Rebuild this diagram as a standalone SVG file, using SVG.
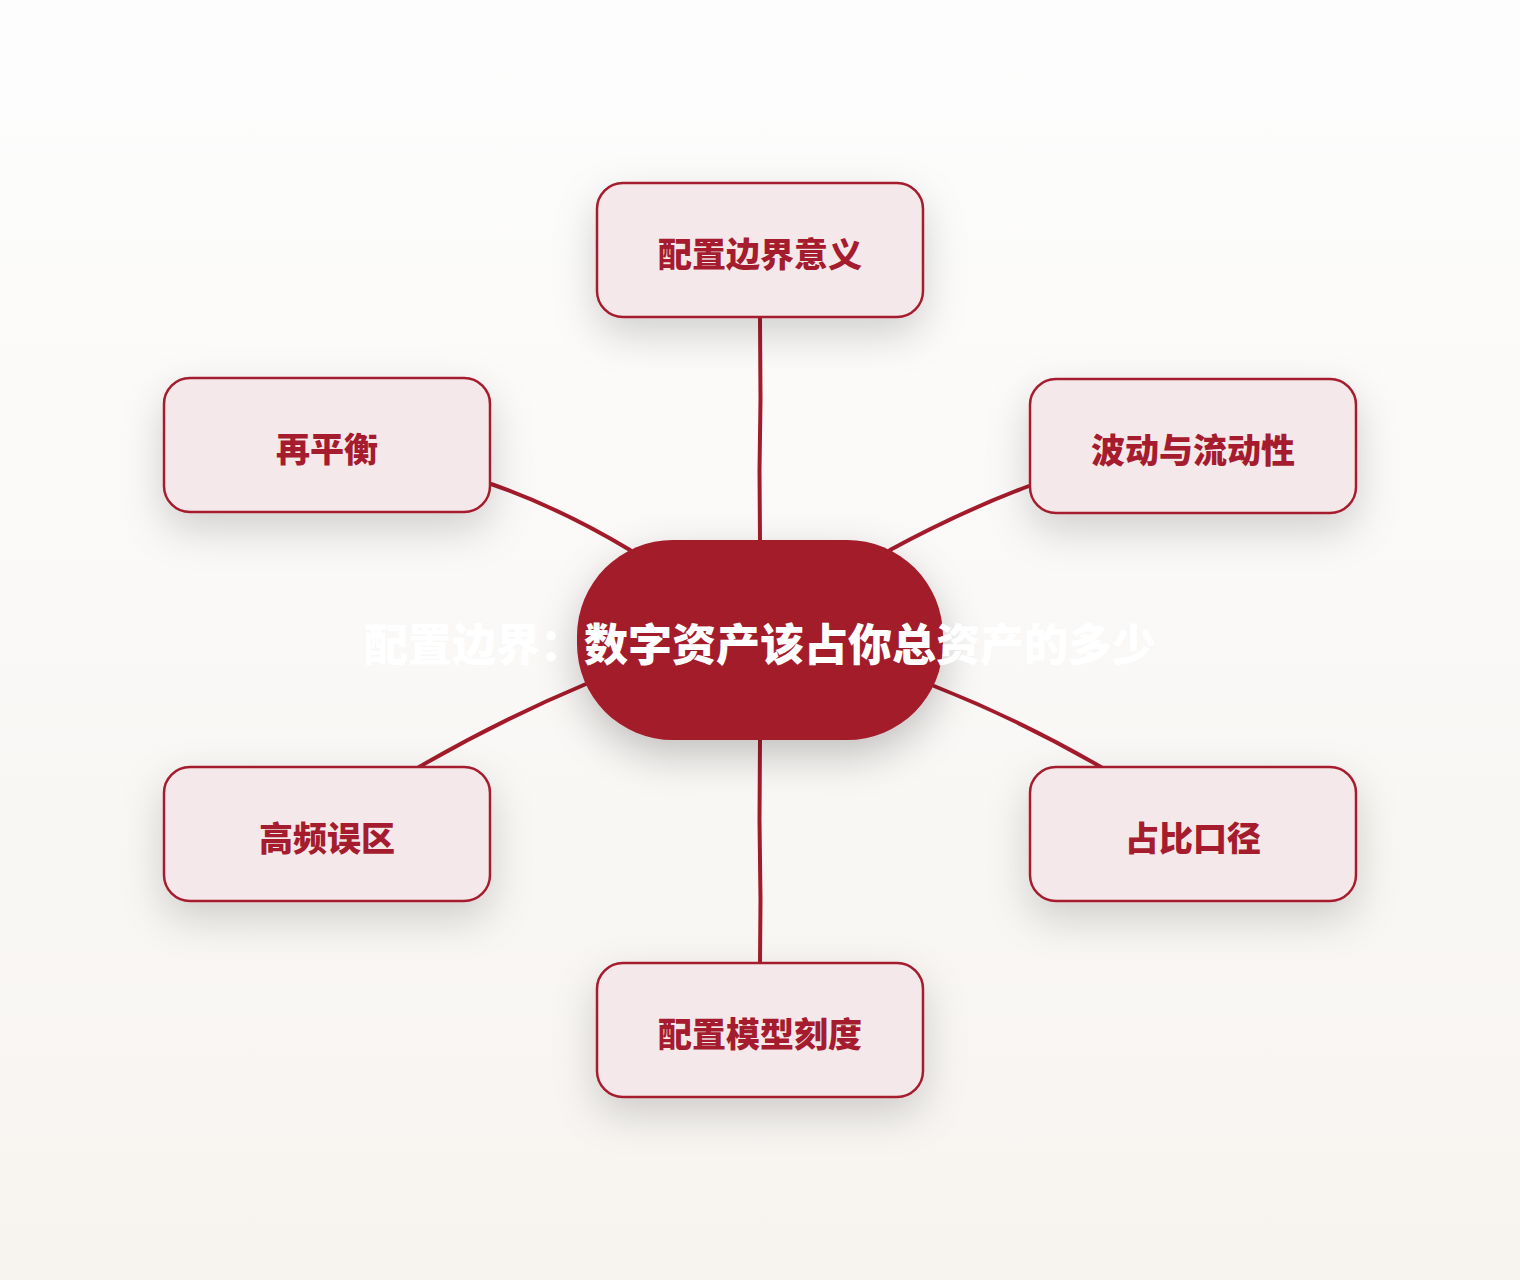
<svg xmlns="http://www.w3.org/2000/svg" width="1520" height="1280" viewBox="0 0 1520 1280">
<defs>
<linearGradient id="bg" x1="0" y1="0" x2="0" y2="1">
<stop offset="0" stop-color="#fdfdfd"/>
<stop offset="1" stop-color="#f7f4f0"/>
</linearGradient>
<filter id="sh" x="-40%" y="-40%" width="180%" height="200%">
<feDropShadow dx="0" dy="16" stdDeviation="20" flood-color="#000" flood-opacity="0.17"/>
</filter>
<filter id="shc" x="-40%" y="-40%" width="180%" height="200%">
<feDropShadow dx="0" dy="16" stdDeviation="20" flood-color="#000" flood-opacity="0.22"/>
</filter>
</defs>
<style>
.node rect{fill:#f5e8ea;stroke:#a51c2e;stroke-width:2.5;filter:url(#sh)}
.node text{fill:#a51c2e;font-family:"Noto Sans CJK SC","Noto Sans",sans-serif;font-weight:900;font-size:34px;text-anchor:middle;dominant-baseline:central}
.edge{fill:none;stroke:#a31b2b;stroke-width:4;stroke-linecap:round}
.center rect{fill:#a31b2b;filter:url(#shc)}
.center text{fill:#ffffff;font-family:"Noto Sans CJK SC","Noto Sans",sans-serif;font-weight:900;font-size:44px;text-anchor:middle;dominant-baseline:central}
</style>
<rect width="1520" height="1280" fill="url(#bg)"/>
<g id="connectors">
<path class="edge" d="M760,318 L760.5,400 L759.5,470 L760,540"/>
<path class="edge" d="M491,484 Q560,508 630,550"/>
<path class="edge" d="M1029,486 Q960,512 890,550"/>
<path class="edge" d="M419,767 Q500,720 586,684"/>
<path class="edge" d="M934,686 Q1020,720 1101,767"/>
<path class="edge" d="M760,740 L759.5,820 L760.5,900 L760,963"/>
</g>
<g id="center" class="center">
<rect x="577" y="540" width="366" height="200" rx="96" ry="96"/>
<text x="760" y="642">配置边界：数字资产该占你总资产的多少</text>
</g>
<g id="n-top" class="node">
<rect x="597" y="183" width="326" height="134" rx="26"/>
<text x="760" y="252">配置边界意义</text>
</g>
<g id="n-ul" class="node">
<rect x="164" y="378" width="326" height="134" rx="26"/>
<text x="327" y="447">再平衡</text>
</g>
<g id="n-ur" class="node">
<rect x="1030" y="379" width="326" height="134" rx="26"/>
<text x="1193" y="448">波动与流动性</text>
</g>
<g id="n-ll" class="node">
<rect x="164" y="767" width="326" height="134" rx="26"/>
<text x="327" y="836">高频误区</text>
</g>
<g id="n-lr" class="node">
<rect x="1030" y="767" width="326" height="134" rx="26"/>
<text x="1193" y="836">占比口径</text>
</g>
<g id="n-bottom" class="node">
<rect x="597" y="963" width="326" height="134" rx="26"/>
<text x="760" y="1032">配置模型刻度</text>
</g>
</svg>
